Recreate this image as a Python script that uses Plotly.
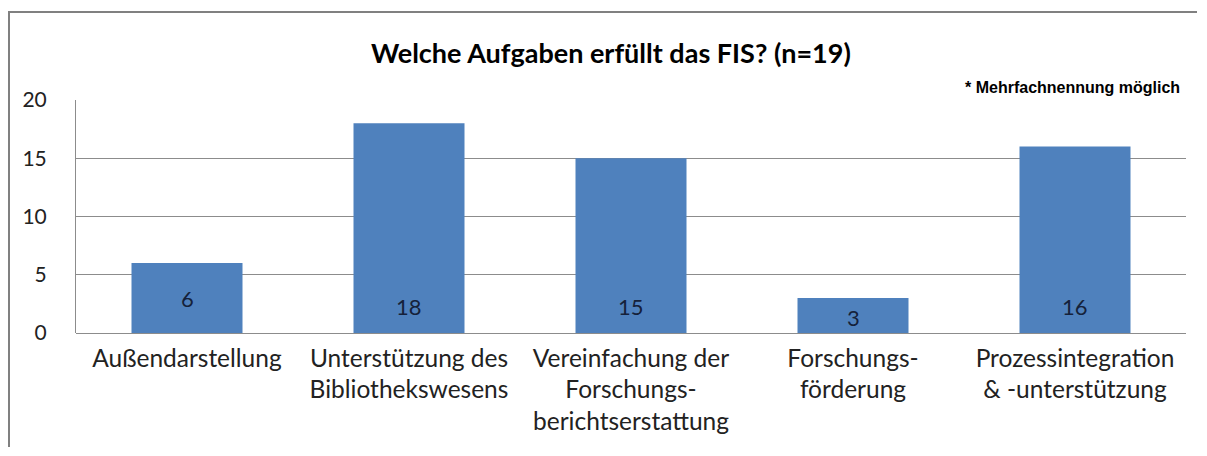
import plotly.graph_objects as go

categories = [
    "Außendarstellung",
    "Unterstützung des<br>Bibliothekswesens",
    "Vereinfachung der<br>Forschungs-<br>berichtserstattung",
    "Forschungs-<br>förderung",
    "Prozessintegration<br>& -unterstützung",
]
values = [6, 18, 15, 3, 16]
label_pos = [3.0, 2.3, 2.3, 1.3, 2.3]
y_ticks = [0, 5, 10, 15, 20]

# the page body has an 8px margin on every side; size the figure to fit inside it
OFF = 8
W, H = 1207 - 2 * OFF, 456 - 2 * OFF
L, R, T, B = 68, 13, 92, 115
PW, PH = W - L - R, H - T - B

def px_x(x):  # page pixel -> paper
    return (x - OFF - L) / PW

def px_y(y):
    return (H - B - (y - OFF)) / PH

FONT = "Lato"
fig = go.Figure()
fig.add_trace(go.Bar(
    x=categories, y=values,
    marker=dict(color="#4F81BD", line=dict(width=0)),
    width=0.5, hoverinfo="skip",
))

for c, v, p in zip(categories, values, label_pos):
    fig.add_annotation(x=c, y=p, text=str(v), showarrow=False,
                       font=dict(family=FONT, size=22, color="#15213a"),
                       xanchor="center", yanchor="middle")

fig.add_annotation(xref="paper", yref="paper", x=px_x((370 + 852) / 2), y=px_y(52),
                   text="<b>Welche Aufgaben erfüllt das FIS? (n=19)</b>", showarrow=False,
                   font=dict(family=FONT, size=27, color="#000000"),
                   xanchor="center", yanchor="middle")
fig.add_annotation(xref="paper", yref="paper", x=px_x(1182), y=px_y(87),
                   text="<b>* Mehrfachnennung möglich</b>", showarrow=False,
                   font=dict(family="Liberation Sans", size=16, color="#000000"),
                   xanchor="right", yanchor="middle")

# outer frame (top and left edges)
fig.add_shape(type="line", xref="paper", yref="paper",
              x0=px_x(8), x1=px_x(1197), y0=px_y(12), y1=px_y(12),
              line=dict(color="#808080", width=2))
fig.add_shape(type="line", xref="paper", yref="paper",
              x0=px_x(9), x1=px_x(9), y0=px_y(12), y1=px_y(447),
              line=dict(color="#808080", width=2))

fig.update_layout(
    width=W, height=H,
    margin=dict(l=L, r=R, t=T, b=B, autoexpand=False),
    paper_bgcolor="white", plot_bgcolor="white",
    showlegend=False,
    bargap=0.5,
    font=dict(family=FONT, size=24, color="#222222"),
)
fig.update_xaxes(
    showgrid=False, showline=False, ticks="",
    tickfont=dict(family=FONT, size=24.5, color="#222222"),
    ticklabelstandoff=8,
)
fig.update_yaxes(
    range=[0, 20], tickvals=y_ticks,
    showgrid=True, gridcolor="#8c8c8c", gridwidth=1,
    zeroline=True, zerolinecolor="#8c8c8c", zerolinewidth=1,
    showline=True, linecolor="#8c8c8c", linewidth=1,
    ticks="", ticklabelstandoff=24,
    tickfont=dict(family=FONT, size=21, color="#222222"),
)

fig.write_html("out.html", config={"displayModeBar": False})
